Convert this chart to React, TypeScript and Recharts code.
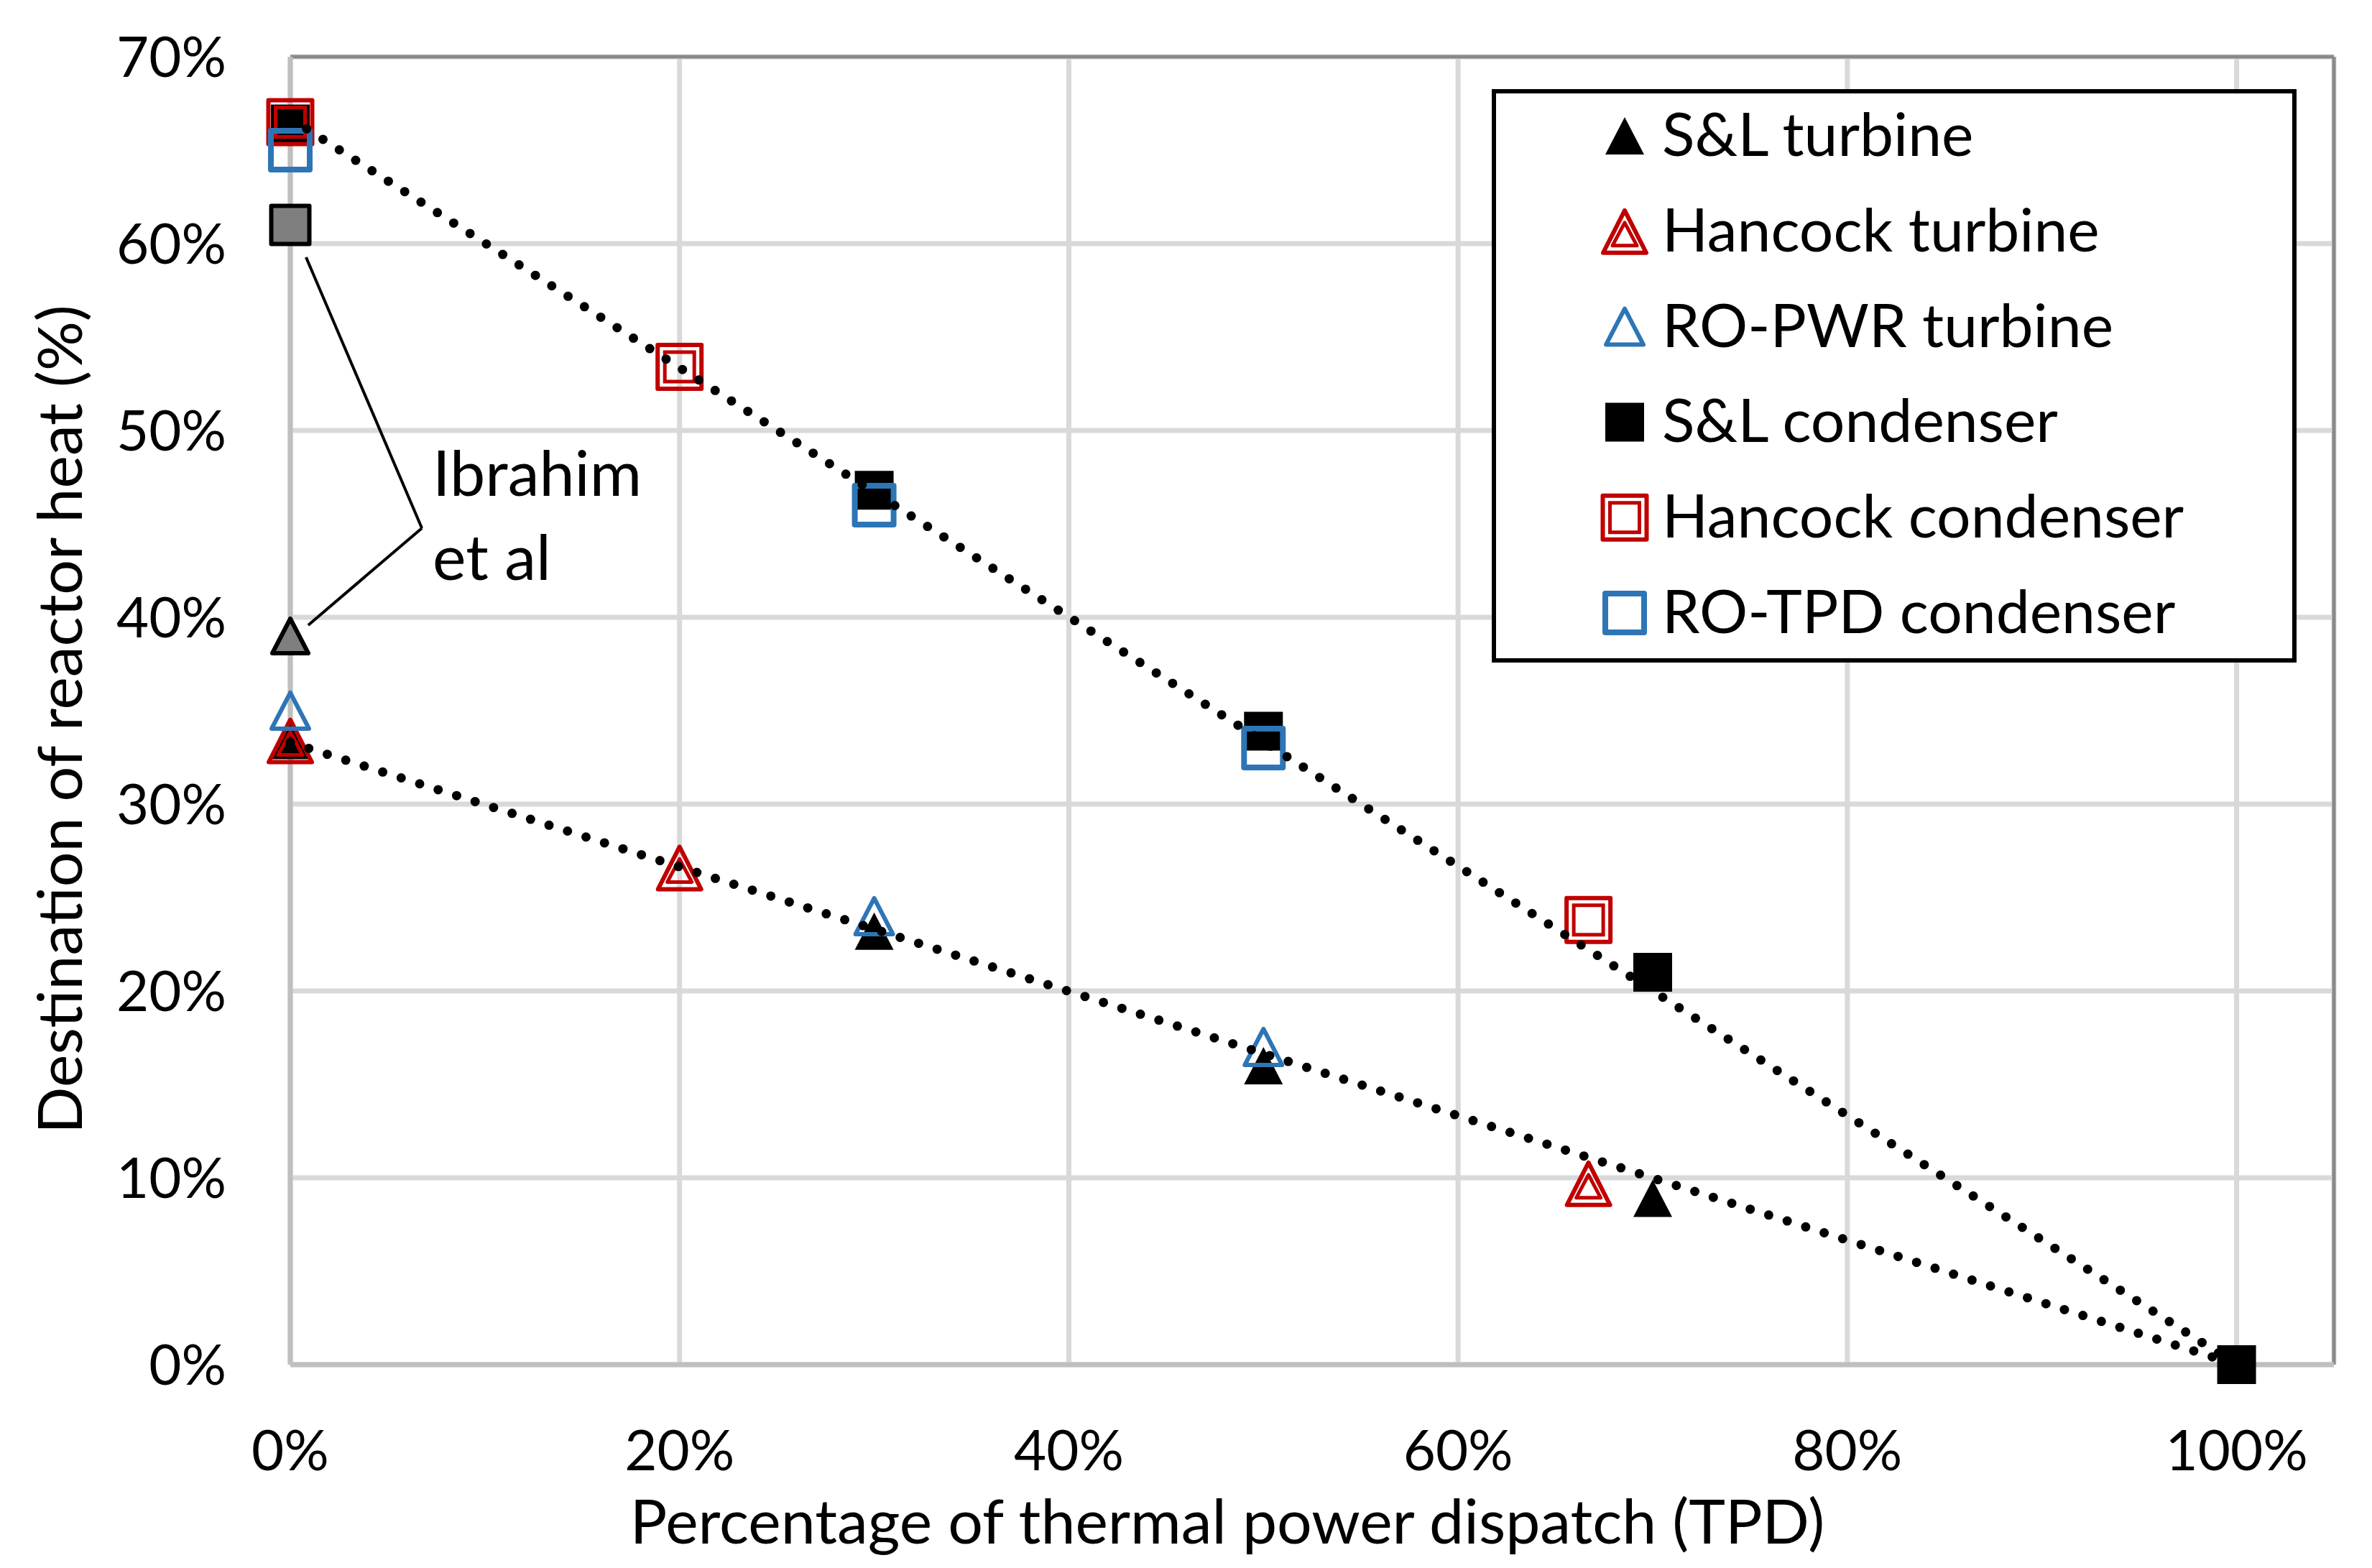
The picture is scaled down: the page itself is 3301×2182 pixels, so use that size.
import React from 'react';
import { ScatterChart, Scatter, XAxis, YAxis, CartesianGrid, ReferenceLine, ReferenceDot } from 'recharts';

// chart values (fractions of 1)
const slTurbineX = [0, 0.3, 0.5, 0.7];
const slTurbineY = [0.334, 0.232, 0.16, 0.089];
const hancockTurbineX = [0, 0.2, 0.667];
const hancockTurbineY = [0.334, 0.266, 0.097];
const roPwrTurbineX = [0, 0.3, 0.5];
const roPwrTurbineY = [0.35, 0.24, 0.17];
const slCondenserX = [0, 0.3, 0.5, 0.7, 1.0];
const slCondenserY = [0.664, 0.468, 0.339, 0.21, 0];
const hancockCondenserX = [0, 0.2, 0.667];
const hancockCondenserY = [0.665, 0.534, 0.238];
const roTpdCondenserX = [0, 0.3, 0.5];
const roTpdCondenserY = [0.65, 0.46, 0.33];
const ibrahimCondenser = [{ x: 0, y: 0.61 }];
const ibrahimTurbine = [{ x: 0, y: 0.39 }];
const trendX = [0, 1];
const condenserTrendY = [0.667, 0];
const turbineTrendY = [0.333, 0];

const xTicks = [0, 0.2, 0.4, 0.6, 0.8, 1.0];
const yTicks = [0, 0.1, 0.2, 0.3, 0.4, 0.5, 0.6, 0.7];

const W = 3301;
const H = 2182;
const PLOT_LEFT = 404;
const PLOT_TOP = 79;
const PLOT_RIGHT = 3248;
const PLOT_BOTTOM = 1899;
const FONT = 'Lato, "Open Sans", sans-serif';
const RED = '#c00000';
const BLUE = '#2e75b6';
const GRAY = '#7f7f7f';

const zip = (xs: number[], ys: number[]) => xs.map((x, i) => ({ x, y: ys[i] }));

const tri = (cx: number, cy: number, top: number, base: number, half: number) =>
  `M${cx},${cy - top} L${cx + half},${cy + base} L${cx - half},${cy + base} Z`;
const sq = (cx: number, cy: number, side: number) =>
  `M${cx - side / 2},${cy - side / 2} h${side} v${side} h${-side} Z`;

const markers: Record<string, (cx: number, cy: number) => React.ReactElement> = {
  triBlack: (cx, cy) => <path d={tri(cx, cy, 26, 26, 27)} fill="#000" />,
  triHancock: (cx, cy) => (
    <g fill="none" stroke={RED} strokeLinejoin="round">
      <path d={tri(cx, cy, 29, 30, 30)} strokeWidth={6} />
      <path d={tri(cx, cy, 12, 20, 17)} strokeWidth={5} />
    </g>
  ),
  triBlue: (cx, cy) => <path d={tri(cx, cy, 25, 25, 26)} fill="none" stroke={BLUE} strokeWidth={6} strokeLinejoin="round" />,
  sqBlack: (cx, cy) => <path d={sq(cx, cy, 54)} fill="#000" />,
  sqHancock: (cx, cy) => (
    <g fill="none" stroke={RED} strokeLinejoin="round">
      <path d={sq(cx, cy, 61)} strokeWidth={6} />
      <path d={sq(cx, cy, 41)} strokeWidth={5} strokeLinejoin="miter" />
    </g>
  ),
  sqBlue: (cx, cy) => <path d={sq(cx, cy, 54)} fill="none" stroke={BLUE} strokeWidth={8} strokeLinejoin="round" />,
  sqGray: (cx, cy) => <path d={sq(cx, cy, 53)} fill={GRAY} stroke="#000" strokeWidth={6} strokeLinejoin="round" />,
  triGray: (cx, cy) => <path d={tri(cx, cy, 24, 24, 25)} fill={GRAY} stroke="#000" strokeWidth={6} strokeLinejoin="round" />,
};

const series = [
  { name: 'S&L turbine', data: zip(slTurbineX, slTurbineY), marker: 'triBlack' },
  { name: 'Hancock turbine', data: zip(hancockTurbineX, hancockTurbineY), marker: 'triHancock' },
  { name: 'RO-PWR turbine', data: zip(roPwrTurbineX, roPwrTurbineY), marker: 'triBlue' },
  { name: 'S&L condenser', data: zip(slCondenserX, slCondenserY), marker: 'sqBlack' },
  { name: 'Hancock condenser', data: zip(hancockCondenserX, hancockCondenserY), marker: 'sqHancock' },
  { name: 'RO-TPD condenser', data: zip(roTpdCondenserX, roTpdCondenserY), marker: 'sqBlue' },
];

const pct = (v: number) => `${Math.round(v * 100)}%`;

const XTick = ({ x, payload }: any) => (
  <text x={x} y={PLOT_BOTTOM + 147} textAnchor="middle" fontFamily={FONT} fontSize={78} fill="#000">
    {pct(payload.value)}
  </text>
);

const YTick = ({ y, payload }: any) => (
  <text x={PLOT_LEFT - 89} y={y + 28} textAnchor="end" fontFamily={FONT} fontSize={78} fill="#000">
    {pct(payload.value)}
  </text>
);

const dotLine = { stroke: '#000', strokeWidth: 13, strokeDasharray: '0 27', strokeLinecap: 'round' as const };

const ChartLegend = () => (
  <svg
    width={1120}
    height={798}
    style={{ position: 'absolute', left: 2076, top: 124 }}
  >
    <rect x={3} y={3} width={1114} height={792} fill="#fff" stroke="#000" strokeWidth={6} />
    {series.map((s, i) => {
      const cy = 65 + i * 132.8;
      return (
        <g key={s.name}>
          {markers[s.marker](185, cy)}
          <text x={237} y={cy + 28} fontFamily={FONT} fontSize={84} fill="#000">
            {s.name}
          </text>
        </g>
      );
    })}
  </svg>
);

export default function App() {
  return (
    <div style={{ position: 'relative', width: W, height: H, background: '#fff' }}>
      <style>{'body{margin:0}'}</style>
      <ScatterChart width={W} height={H} margin={{ top: PLOT_TOP, right: W - PLOT_RIGHT, left: 0, bottom: 0 }}>
        <CartesianGrid stroke="#d9d9d9" strokeWidth={7} />
        <XAxis
          type="number"
          dataKey="x"
          domain={[0, 1.05]}
          ticks={xTicks}
          height={H - PLOT_BOTTOM}
          axisLine={{ stroke: '#bfbfbf', strokeWidth: 7 }}
          tickLine={false}
          tick={XTick}
          label={{
            content: () => (
              <text x={1708} y={PLOT_BOTTOM + 249} textAnchor="middle" fontFamily={FONT} fontSize={86} fill="#000">
                Percentage of thermal power dispatch (TPD)
              </text>
            ),
          }}
        />
        <YAxis
          type="number"
          dataKey="y"
          domain={[0, 0.7]}
          ticks={yTicks}
          width={PLOT_LEFT}
          axisLine={{ stroke: '#bfbfbf', strokeWidth: 7 }}
          tickLine={false}
          tick={YTick}
          label={{
            content: () => (
              <text
                x={114}
                y={1001}
                transform="rotate(-90, 114, 1001)"
                textAnchor="middle"
                fontFamily={FONT}
                fontSize={86}
                fill="#000"
              >
                Destination of reactor heat (%)
              </text>
            ),
          }}
        />
        <ReferenceLine y={0.7} stroke="#898989" strokeWidth={5} />
        <ReferenceLine x={1.05} stroke="#898989" strokeWidth={5} />

        <ReferenceLine segment={[{ x: 0.0081, y: 0.5927 }, { x: 0.0676, y: 0.4477 }]} stroke="#000" strokeWidth={4} />
        <ReferenceLine segment={[{ x: 0.0676, y: 0.4477 }, { x: 0.0092, y: 0.3958 }]} stroke="#000" strokeWidth={4} />
        <ReferenceDot
          x={0.0735}
          y={0.4646}
          r={1}
          fill="none"
          stroke="none"
          label={{
            content: ({ viewBox }: any) => (
              <text x={viewBox.x} y={viewBox.y} fontFamily={FONT} fontSize={88} fill="#000">
                <tspan x={viewBox.x}>Ibrahim</tspan>
                <tspan x={viewBox.x} dy={117}>et al</tspan>
              </text>
            ),
          }}
        />

        <Scatter data={ibrahimCondenser} isAnimationActive={false} shape={(p: any) => markers.sqGray(p.cx, p.cy)} />
        <Scatter data={ibrahimTurbine} isAnimationActive={false} shape={(p: any) => markers.triGray(p.cx, p.cy)} />
        {series.map((s) => (
          <Scatter
            key={s.name}
            name={s.name}
            data={s.data}
            isAnimationActive={false}
            shape={(p: any) => markers[s.marker](p.cx, p.cy)}
          />
        ))}
        <Scatter
          data={zip(trendX, condenserTrendY)}
          isAnimationActive={false}
          line={dotLine}
          shape={() => <g />}
        />
        <Scatter
          data={zip(trendX, turbineTrendY)}
          isAnimationActive={false}
          line={dotLine}
          shape={() => <g />}
        />
      </ScatterChart>
      <ChartLegend />
    </div>
  );
}
